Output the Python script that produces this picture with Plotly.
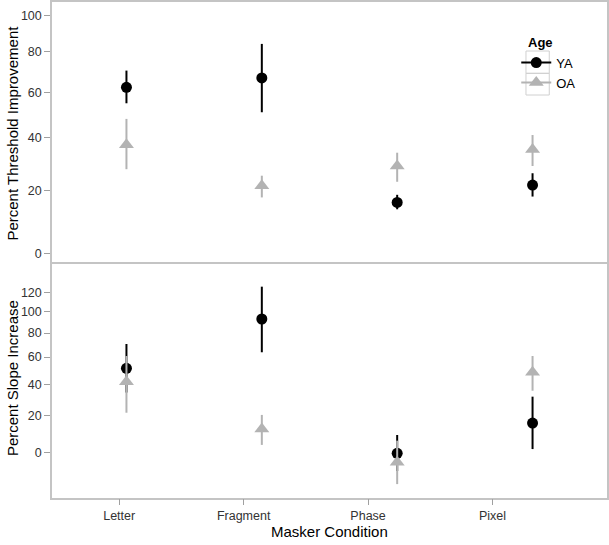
import plotly.graph_objects as go

# data (percent values)
conditions = ["Letter", "Fragment", "Phase", "Pixel"]

thr_ya = [62.3, 66.8, 16.0, 22.0]
thr_ya_lo = [54.9, 50.9, 13.7, 18.0]
thr_ya_hi = [70.4, 84.2, 18.6, 26.3]
thr_oa = [37.3, 21.8, 29.0, 35.4]
thr_oa_lo = [27.8, 17.7, 23.2, 29.0]
thr_oa_hi = [48.0, 25.4, 34.1, 41.2]

slope_ya = [51.4, 92.9, -0.3, 15.7]
slope_ya_lo = [34.4, 63.8, -8.6, 1.8]
slope_ya_hi = [70.6, 126.1, 9.1, 31.7]
slope_oa = [41.7, 12.4, -4.6, 48.5]
slope_oa_lo = [21.7, 3.9, -14.3, 35.6]
slope_oa_hi = [60.8, 20.4, 6.1, 60.8]

thr_ticks = [0, 20, 40, 60, 80, 100]
slope_ticks = [0, 20, 40, 60, 80, 100, 120]

BLACK = "black"
GREY = "#b3b3b3"
BORDER = "#c4c4c4"
FONT = "Liberation Sans, Arial, sans-serif"


def ratio(vals):
    # percent change -> ratio scale (plotted on a log axis)
    return [100 + v for v in vals]


def add_series(fig, vals, lo, hi, color, symbol, size, xa, ya):
    fig.add_trace(go.Scatter(
        x=conditions, y=ratio(vals), xaxis=xa, yaxis=ya,
        mode="markers",
        marker=dict(color=color, symbol=symbol, size=size, line=dict(width=0)),
        error_y=dict(type="data", symmetric=False,
                     array=[h - v for h, v in zip(hi, vals)],
                     arrayminus=[v - l for v, l in zip(vals, lo)],
                     color=color, thickness=2, width=0),
        showlegend=False, hoverinfo="skip"))


fig = go.Figure()

add_series(fig, thr_ya, thr_ya_lo, thr_ya_hi, BLACK, "circle", 11, "x", "y")
add_series(fig, thr_oa, thr_oa_lo, thr_oa_hi, GREY, "triangle-up", 13, "x", "y")
add_series(fig, slope_ya, slope_ya_lo, slope_ya_hi, BLACK, "circle", 11, "x2", "y2")
add_series(fig, slope_oa, slope_oa_lo, slope_oa_hi, GREY, "triangle-up", 13, "x2", "y2")

# legend-only entries
fig.add_trace(go.Scatter(x=[None], y=[None], mode="lines+markers", name="YA",
                         line=dict(color=BLACK, width=2),
                         marker=dict(color=BLACK, symbol="circle", size=11)))
fig.add_trace(go.Scatter(x=[None], y=[None], mode="lines+markers", name="OA",
                         line=dict(color=GREY, width=2),
                         marker=dict(color=GREY, symbol="triangle-up", size=13)))

# carrier for the category tick labels along the bottom
fig.add_trace(go.Scatter(x=conditions, y=[None] * 4, xaxis="x3", yaxis="y2",
                         mode="markers", showlegend=False, hoverinfo="skip"))

axis_common = dict(showgrid=False, zeroline=False, showline=True, mirror=True,
                   linecolor=BORDER, linewidth=1.5, ticks="outside", ticklen=6,
                   tickcolor="#a0a0a0", tickwidth=1, automargin=False,
                   tickfont=dict(family=FONT, size=12.5, color="#333333"))

split = 0.4718
title_font = dict(family=FONT, size=15, color="black")

fig.update_layout(
    width=609, height=545,
    margin=dict(l=52, r=2, t=2, b=47),
    plot_bgcolor="white", paper_bgcolor="white",
    font=dict(family=FONT, color="black"),
    xaxis=dict(axis_common, type="category", categoryarray=conditions,
               range=[-0.55, 3.55], anchor="y", domain=[0, 1], side="top",
               mirror=False, showticklabels=False, ticks=""),
    xaxis2=dict(axis_common, type="category", categoryarray=conditions,
                range=[-0.55, 3.55], anchor="y2", domain=[0, 1],
                showticklabels=False, ticks=""),
    xaxis3=dict(axis_common, type="category", categoryarray=conditions,
                range=[-0.54, 3.92], overlaying="x2", anchor="y2", side="bottom",
                showline=False),
    yaxis=dict(axis_common, type="log", domain=[split, 1], anchor="x",
               range=[1.98644, 2.31838],
               tickvals=ratio(thr_ticks), ticktext=[str(t) for t in thr_ticks]),
    yaxis2=dict(axis_common, type="log", domain=[0, split], anchor="x2",
                range=[1.90333, 2.40269],
                tickvals=ratio(slope_ticks), ticktext=[str(t) for t in slope_ticks]),
    legend=dict(x=0.8365, y=0.908, xanchor="left", yanchor="top",
                bgcolor="rgba(0,0,0,0)", borderwidth=0,
                font=dict(family=FONT, size=13, color="black"),
                itemwidth=30, tracegroupgap=0),
    annotations=[
        dict(text="Masker Condition", xref="paper", yref="paper", x=0.5, y=-0.067,
             xanchor="center", yanchor="middle", showarrow=False, font=title_font),
        dict(text="Percent Threshold Improvement", xref="paper", yref="paper",
             x=-0.071, y=(split + 1) / 2, textangle=-90, xanchor="center",
             yanchor="middle", showarrow=False, font=title_font),
        dict(text="Percent Slope Increase", xref="paper", yref="paper",
             x=-0.071, y=split / 2 + 0.005, textangle=-90, xanchor="center",
             yanchor="middle", showarrow=False, font=title_font),
        dict(text="<b>Age</b>", xref="paper", yref="paper", x=0.854, y=0.919,
             xanchor="left", yanchor="middle", showarrow=False,
             font=dict(family=FONT, size=13, color="black")),
    ],
    shapes=[
        dict(type="rect", xref="paper", yref="paper", x0=0.854, x1=0.896,
             y0=0.8562, y1=0.9012, line=dict(color="#d0d0d0", width=1)),
        dict(type="rect", xref="paper", yref="paper", x0=0.854, x1=0.896,
             y0=0.8125, y1=0.8562, line=dict(color="#d0d0d0", width=1)),
    ],
)

fig.write_html("out.html", config={"displayModeBar": False},
               post_script="document.body.style.margin='0';")
